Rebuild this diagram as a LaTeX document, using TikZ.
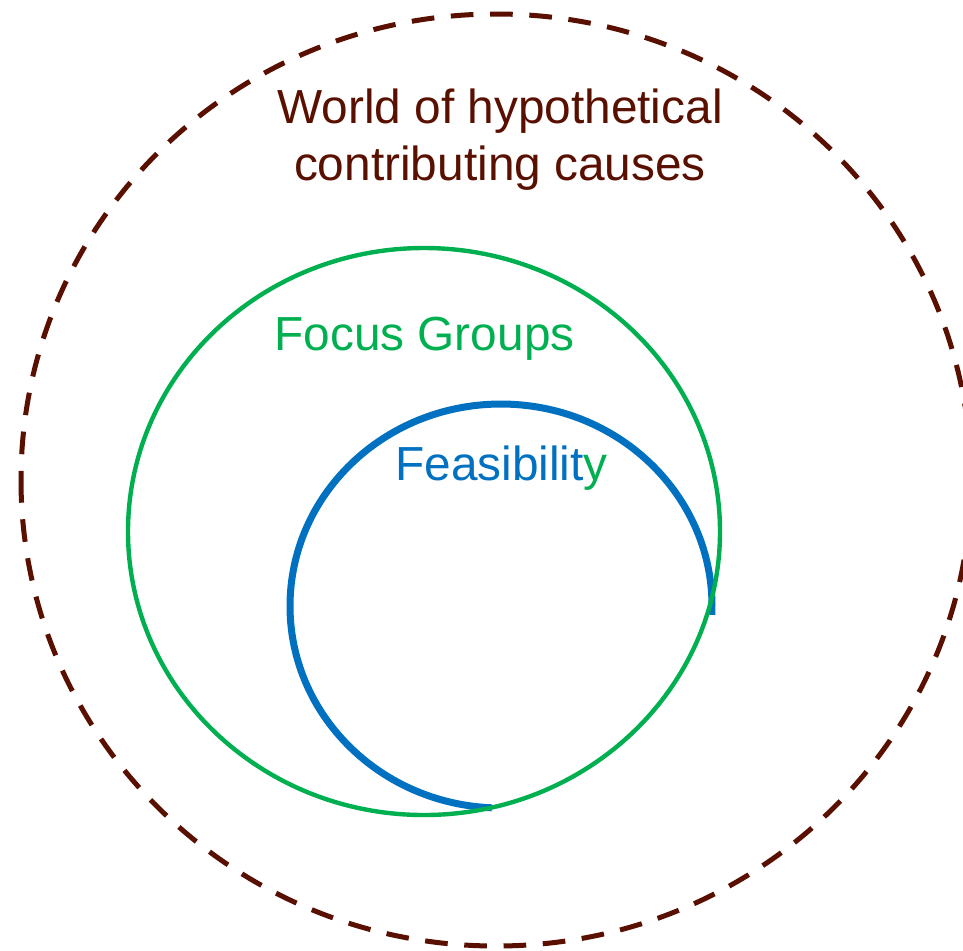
\documentclass[tikz,border=0pt]{standalone}
\usepackage{fontspec}
\setmainfont{Liberation Sans}
\definecolor{worldred}{HTML}{5A1000}
\definecolor{focusgreen}{HTML}{00B050}
\definecolor{feasblue}{HTML}{0070C0}

\begin{document}
\begin{tikzpicture}[x=0.5pt,y=-0.5pt,
		worldline/.style={draw=worldred,line width=2.5pt,dash pattern=on 11.35pt off 8.3pt},
		focusline/.style={draw=focusgreen,line width=2.2pt},
		feasline/.style={draw=feasblue,line width=3.5pt},
		bigtext/.style={font=\fontsize{23.9}{28.5}\selectfont}]
				\tikzstyle{every node}+=[inner sep=0pt]
				\useasboundingbox (0,0) rectangle (963,950);
				\coordinate (worldc) at (496,480);
				\coordinate (focusc) at (424,531.5);
				\coordinate (feasc) at (501,606);
				\draw [worldline] (worldc) ++(-475,0) arc [start angle=180, end angle=-180, x radius=475, y radius=466];
				\draw [feasline] (feasc) ++(-9.2,201.8) arc [start angle=92.5, end angle=362.5, x radius=211, y radius=202];
				\draw [focusline] (focusc) ellipse [x radius=296, y radius=283.5];
				\draw (500,180) node (world) [bigtext,text=worldred,anchor=base,align=center] {World of hypothetical\\contributing causes};
				\draw (424.5,350.7) node (focus) [bigtext,text=focusgreen,anchor=base] {Focus Groups};
				\draw (501.5,480) node (feas) [bigtext,text=feasblue,anchor=base] {Feasibilit\textcolor{focusgreen}{y}};
			\end{tikzpicture}
\end{document}
